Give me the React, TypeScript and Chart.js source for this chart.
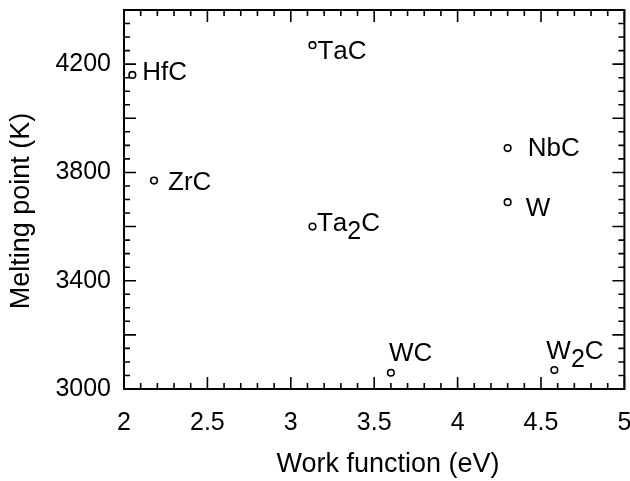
import React, { useEffect, useRef } from "react";
import { Chart, registerables } from "chart.js";

Chart.register(...registerables);

// ---- data ----
const materials = ["HfC", "ZrC", "TaC", "Ta2C", "WC", "NbC", "W", "W2C"];
const workFunction = [2.05, 2.18, 3.13, 3.13, 3.6, 4.3, 4.3, 4.58];
const meltingPoint = [4160, 3770, 4270, 3600, 3060, 3890, 3690, 3070];
const xTickLabels = [2, 2.5, 3, 3.5, 4, 4.5, 5];
const yTickLabels = [3000, 3400, 3800, 4200];
const xTitle = "Work function (eV)";
const yTitle = "Melting point (K)";

// ---- axis ranges / tick spacing ----
const X_MIN = 2, X_MAX = 5, X_MINOR = 0.1, X_MAJOR_EVERY = 5;
const Y_MIN = 3000, Y_MAX = 4400, Y_MINOR = 50, Y_MAJOR_EVERY = 4;

// label offsets (px) relative to each point: [dx, baseline dy]
const labelOffsets: number[][] = [
  [10, 5.5], [14, 9.5], [5, 13.5], [4.5, 4.5], [-2, -11.5], [20, 7.5], [18, 13.5], [-8, -11.5],
];

const FONT = '"Liberation Sans", Arial, Helvetica, sans-serif';

function drawLabel(ctx: CanvasRenderingContext2D, text: string, x: number, y: number) {
  let cx = x;
  for (const ch of text) {
    const isSub = /[0-9]/.test(ch);
    ctx.font = `${isSub ? 25 : 26}px ${FONT}`;
    ctx.fillText(ch, cx, isSub ? y + 8 : y);
    cx += ctx.measureText(ch).width;
  }
}

const framePlugin = {
  id: "frameTicks",
  beforeDatasetsDraw(chart: any) {
    const { ctx, chartArea } = chart;
    const xs = chart.scales.x, ys = chart.scales.y;
    const { left, right, top, bottom } = chartArea;
    ctx.save();
    ctx.strokeStyle = "#000";
    ctx.lineWidth = 1.6;
    const nx = Math.round((X_MAX - X_MIN) / X_MINOR);
    for (let i = 0; i <= nx; i++) {
      const px = xs.getPixelForValue(X_MIN + i * X_MINOR);
      const len = i % X_MAJOR_EVERY === 0 ? 12 : 6;
      ctx.beginPath();
      ctx.moveTo(px, bottom); ctx.lineTo(px, bottom - len);
      ctx.moveTo(px, top); ctx.lineTo(px, top + len);
      ctx.stroke();
    }
    const ny = Math.round((Y_MAX - Y_MIN) / Y_MINOR);
    for (let i = 0; i <= ny; i++) {
      const py = ys.getPixelForValue(Y_MIN + i * Y_MINOR);
      const len = i % Y_MAJOR_EVERY === 0 ? 12 : 6;
      ctx.beginPath();
      ctx.moveTo(left, py); ctx.lineTo(left + len, py);
      ctx.moveTo(right, py); ctx.lineTo(right - len, py);
      ctx.stroke();
    }
    ctx.lineWidth = 2;
    ctx.strokeRect(left, top, right - left, bottom - top);
    ctx.restore();
  },
  afterDatasetsDraw(chart: any) {
    const { ctx } = chart;
    const xs = chart.scales.x, ys = chart.scales.y;
    ctx.save();
    ctx.fillStyle = "#000";
    ctx.textBaseline = "alphabetic";
    ctx.textAlign = "left";
    materials.forEach((name, i) => {
      const px = xs.getPixelForValue(workFunction[i]);
      const py = ys.getPixelForValue(meltingPoint[i]);
      drawLabel(ctx, name, px + labelOffsets[i][0], py + labelOffsets[i][1]);
    });
    // axis titles
    ctx.font = `27px ${FONT}`;
    ctx.textAlign = "center";
    ctx.fillText(xTitle, 388, 472);
    ctx.translate(29, 211);
    ctx.rotate(-Math.PI / 2);
    ctx.fillText(yTitle, 0, 0);
    ctx.restore();
  },
};

export default function App() {
  const ref = useRef<HTMLCanvasElement | null>(null);
  useEffect(() => {
    if (!ref.current) return;
    const chart = new Chart(ref.current, {
      type: "scatter",
      data: {
        datasets: [
          {
            data: workFunction.map((x, i) => ({ x, y: meltingPoint[i] })),
            pointStyle: "circle",
            pointRadius: 3.3,
            pointBorderWidth: 1.6,
            borderColor: "#000",
            backgroundColor: "#fff",
            pointBorderColor: "#000",
            pointBackgroundColor: "#fff",
          },
        ],
      },
      options: {
        responsive: false,
        animation: false,
        layout: { padding: { left: 0, right: 5, top: 10, bottom: 0 } },
        plugins: { legend: { display: false }, tooltip: { enabled: false } },
        scales: {
          x: {
            type: "linear",
            position: "bottom",
            min: X_MIN,
            max: X_MAX,
            grid: { display: false, drawTicks: false },
            border: { display: false },
            ticks: {
              stepSize: 0.5,
              autoSkip: false,
              padding: 19,
              color: "#000",
              font: { family: FONT, size: 25 },
              maxRotation: 0,
              callback: (v: any) => (xTickLabels.includes(Number(v)) ? String(Number(v)) : null),
            },
            afterFit: (s: any) => {
              s.height = 92;
              s.paddingLeft = 0;
              s.paddingRight = 0;
            },
          },
          y: {
            type: "linear",
            position: "left",
            min: Y_MIN,
            max: Y_MAX,
            grid: { display: false, drawTicks: false },
            border: { display: false },
            ticks: {
              stepSize: 200,
              autoSkip: false,
              padding: 13,
              color: "#000",
              font: { family: FONT, size: 25 },
              callback: (v: any) => (yTickLabels.includes(Number(v)) ? String(Number(v)) : null),
            },
            afterFit: (s: any) => {
              s.width = 124;
              s.paddingTop = 0;
              s.paddingBottom = 0;
            },
          },
        },
      },
      plugins: [framePlugin],
    } as any);
    return () => chart.destroy();
  }, []);
  return (
    <div style={{ position: "absolute", left: 0, top: 0, width: 630, height: 481, background: "#fff" }}>
      <canvas ref={ref} width={630} height={481} style={{ width: 630, height: 481, display: "block" }} />
    </div>
  );
}
